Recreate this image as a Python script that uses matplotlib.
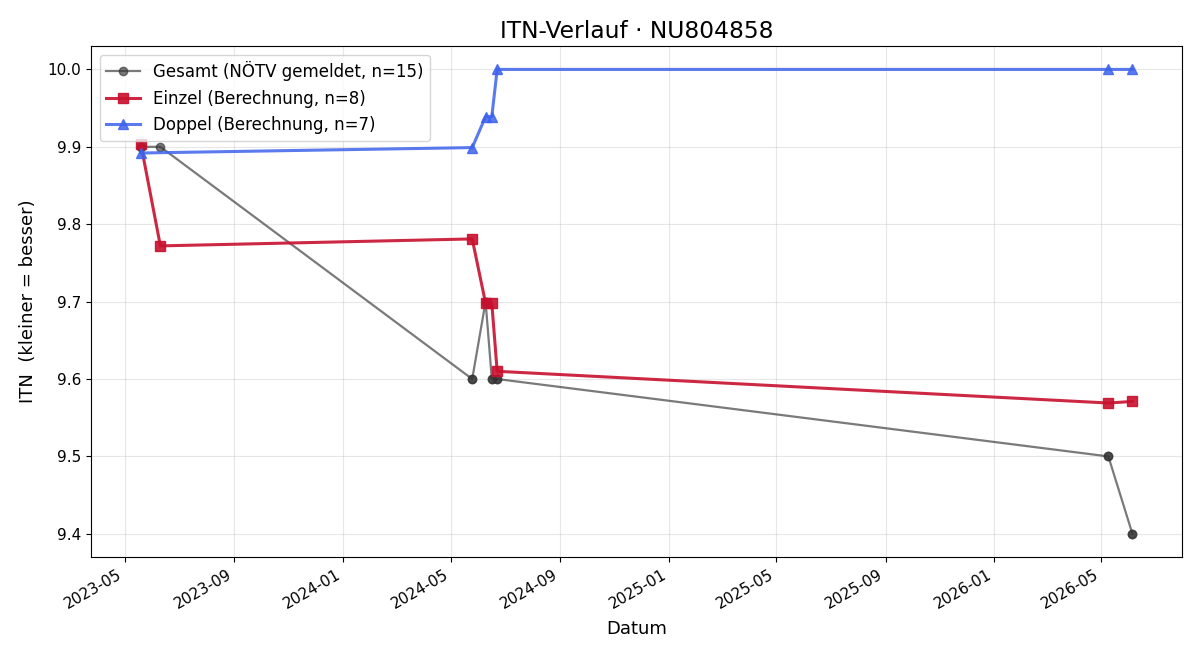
import pandas as pd
import matplotlib
matplotlib.use("Agg")
import matplotlib.pyplot as plt
import matplotlib.dates as mdates

# Gesamt (reported by NÖTV), duplicates where singles and doubles share a date
gesamt_dates = ["2023-05-19", "2023-05-19", "2023-06-10", "2024-05-25", "2024-05-25",
                "2024-06-09", "2024-06-09", "2024-06-16", "2024-06-16", "2024-06-22",
                "2024-06-22", "2026-05-09", "2026-05-09", "2026-06-05", "2026-06-05"]
gesamt_itn = [9.9, 9.9, 9.9, 9.6, 9.6, 9.7, 9.7, 9.6, 9.6, 9.6, 9.6, 9.5, 9.5, 9.4, 9.4]

einzel_dates = ["2023-05-19", "2023-06-10", "2024-05-25", "2024-06-09",
                "2024-06-16", "2024-06-22", "2026-05-09", "2026-06-05"]
einzel_itn = [9.904, 9.772, 9.781, 9.698, 9.698, 9.610, 9.569, 9.571]

doppel_dates = ["2023-05-19", "2024-05-25", "2024-06-09", "2024-06-16",
                "2024-06-22", "2026-05-09", "2026-06-05"]
doppel_itn = [9.892, 9.899, 9.939, 9.939, 10.0, 10.0, 10.0]

fig, ax = plt.subplots(figsize=(12, 6.6), dpi=100)

ax.plot(pd.to_datetime(gesamt_dates), gesamt_itn, marker="o", markersize=6,
        color="#333333", alpha=0.65, linewidth=1.6,
        label="Gesamt (NÖTV gemeldet, n=15)")
ax.plot(pd.to_datetime(einzel_dates), einzel_itn, marker="s", markersize=7,
        color="#c8102e", alpha=0.9, linewidth=2.2,
        label="Einzel (Berechnung, n=8)")
ax.plot(pd.to_datetime(doppel_dates), doppel_itn, marker="^", markersize=7,
        color="#3d63eb", alpha=0.85, linewidth=2.2,
        label="Doppel (Berechnung, n=7)")

ax.set_title("ITN-Verlauf · NU804858", fontsize=16.8)
ax.set_xlabel("Datum", fontsize=13, labelpad=6)
ax.set_ylabel("ITN  (kleiner = besser)", fontsize=13, labelpad=8)
ax.grid(True, alpha=0.3)
ax.legend(loc="upper left", fontsize=12)

ax.xaxis.set_major_locator(mdates.MonthLocator(bymonth=[1, 5, 9]))
ax.xaxis.set_major_formatter(mdates.DateFormatter("%Y-%m"))
ax.tick_params(labelsize=11)
fig.autofmt_xdate()

fig.subplots_adjust(left=0.076, right=0.985, top=0.930, bottom=0.156)
fig.savefig("out.png", dpi=100)
